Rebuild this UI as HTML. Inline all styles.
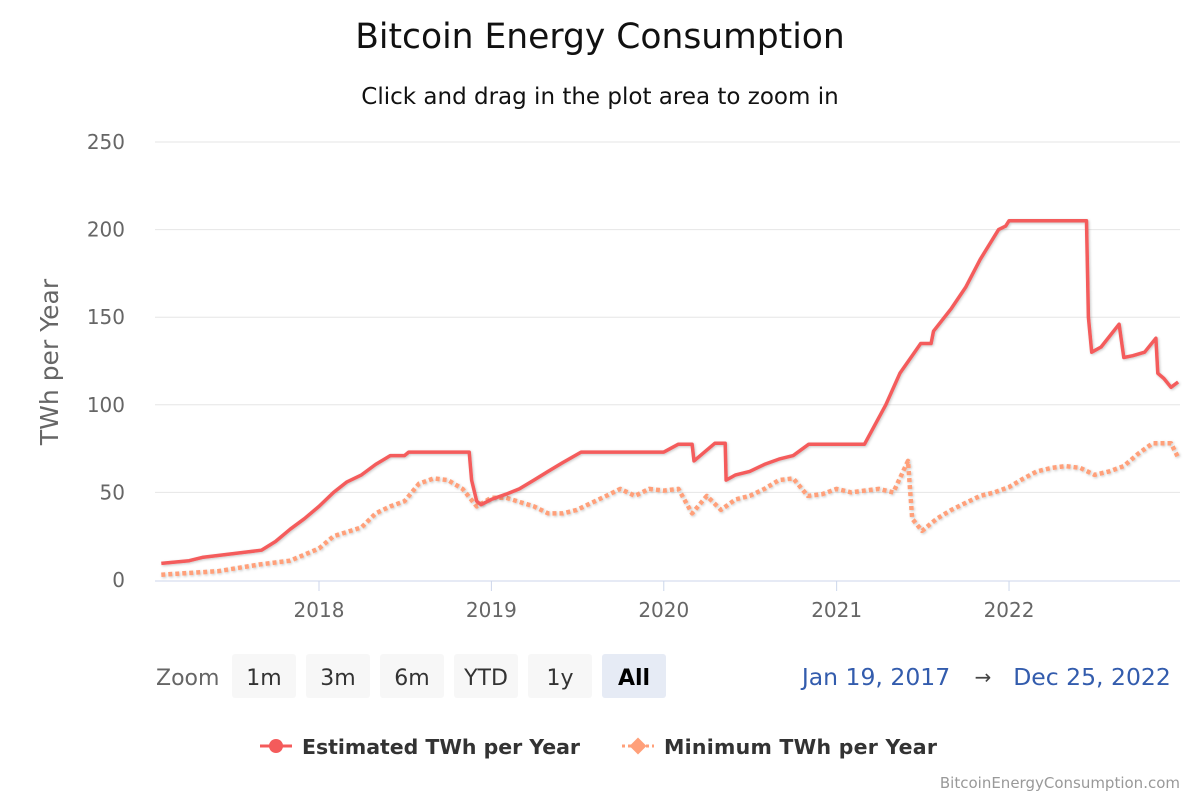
<!DOCTYPE html>
<html><head><meta charset="utf-8"><style>
body{margin:0;background:#fff;font-family:"Liberation Sans","DejaVu Sans",sans-serif}
svg text{font-family:"DejaVu Sans","Liberation Sans",sans-serif}
</style></head><body>
<svg id="c" width="1200" height="800" viewBox="0 0 1200 800" xmlns="http://www.w3.org/2000/svg">
<defs><filter id="sh" x="-5%" y="-5%" width="110%" height="120%"><feDropShadow dx="1" dy="1" stdDeviation="1.2" flood-color="#000" flood-opacity="0.22"/></filter></defs>
<text x="600" y="48" text-anchor="middle" font-size="34.5" fill="#111">Bitcoin Energy Consumption</text>
<text x="600" y="104" text-anchor="middle" font-size="23" fill="#111">Click and drag in the plot area to zoom in</text>
<g id="grid"></g>
<text transform="translate(58,362) rotate(-90)" text-anchor="middle" font-size="25" fill="#666">TWh per Year</text>
<g id="series"></g>
<g>
<text x="156" y="685" font-size="22" fill="#666">Zoom</text>
<g id="btns"></g>
<text x="876" y="685" text-anchor="middle" font-size="23.5" fill="#335cad">Jan 19, 2017</text>
<text x="983" y="684" text-anchor="middle" font-size="20" fill="#444">→</text>
<text x="1092" y="685" text-anchor="middle" font-size="23.5" fill="#335cad">Dec 25, 2022</text>
</g>
<g>
<line x1="260" y1="746" x2="292" y2="746" stroke="#f45b5b" stroke-width="3"/>
<circle cx="276" cy="746" r="7" fill="#f45b5b"/>
<text x="302" y="754" font-size="20.5" font-weight="bold" fill="#333" textLength="278">Estimated TWh per Year</text>
</g>
<g>
<line x1="622" y1="746" x2="654" y2="746" stroke="#ffa07a" stroke-width="3" stroke-dasharray="3,3"/>
<rect x="632" y="740" width="12" height="12" transform="rotate(45 638 746)" fill="#ffa07a"/>
<text x="664" y="754" font-size="20.5" font-weight="bold" fill="#333" textLength="273">Minimum TWh per Year</text>
</g>
<text x="1180" y="788" text-anchor="end" font-size="15" fill="#999">BitcoinEnergyConsumption.com</text>
</svg>
<script>
const yTicks=[0,50,100,150,200,250];
const xTickLabels=["2018","2019","2020","2021","2022"];
const estDates=["2017-02-01","2017-04-01","2017-05-01","2017-06-01","2017-08-01","2017-09-01","2017-10-01","2017-11-01","2017-12-01","2018-01-01","2018-02-01","2018-03-01","2018-04-01","2018-05-01","2018-06-01","2018-07-01","2018-07-10","2018-11-15","2018-11-20","2018-12-01","2018-12-10","2019-01-01","2019-02-01","2019-03-01","2019-04-01","2019-05-01","2019-06-01","2019-07-10","2020-01-01","2020-02-01","2020-03-01","2020-03-05","2020-04-18","2020-05-10","2020-05-12","2020-06-01","2020-07-01","2020-08-01","2020-09-01","2020-10-01","2020-11-03","2021-03-01","2021-04-15","2021-05-15","2021-06-15","2021-06-28","2021-07-20","2021-07-25","2021-09-01","2021-10-01","2021-11-01","2021-12-10","2021-12-25","2022-01-01","2022-06-14","2022-06-18","2022-06-25","2022-07-15","2022-08-22","2022-09-01","2022-09-20","2022-10-15","2022-11-08","2022-11-12","2022-11-25","2022-12-10","2022-12-25"];
const estValues=[9.5,11,13,14,16,17,22,29,35,42,50,56,60,66,71,71,73,73,57,45,43,46,49,52,57,62,67,73,73,77.5,77.5,68,78,78,57,60,62,66,69,71,77.5,77.5,100,118,130,135,135,142,155,167,183,200,202,205,205,150,130,133,146,127,128,130,138,118,115,110,113];
const minDates=["2017-02-01","2017-06-01","2017-09-01","2017-11-01","2018-01-01","2018-02-01","2018-04-01","2018-05-01","2018-06-01","2018-07-01","2018-08-01","2018-09-01","2018-10-01","2018-11-01","2018-12-01","2019-01-01","2019-02-01","2019-04-01","2019-05-01","2019-06-01","2019-07-01","2019-08-01","2019-09-01","2019-10-01","2019-11-01","2019-12-01","2020-01-01","2020-02-01","2020-03-01","2020-04-01","2020-05-01","2020-06-01","2020-07-01","2020-08-01","2020-09-01","2020-10-01","2020-11-01","2020-12-01","2021-01-01","2021-02-01","2021-03-01","2021-04-01","2021-05-01","2021-06-01","2021-06-10","2021-07-01","2021-08-01","2021-09-01","2021-10-01","2021-11-01","2021-12-01","2022-01-01","2022-02-01","2022-03-01","2022-04-01","2022-05-01","2022-06-01","2022-07-01","2022-08-01","2022-09-01","2022-10-01","2022-11-01","2022-12-10","2022-12-25"];
const minValues=[3,5,9,11,18,25,30,38,42,45,55,58,57,52,42,47,47,42,38,38,40,44,48,52,48,52,51,52,38,48,40,46,48,52,57,58,48,49,52,50,51,52,50,68,35,28,35,40,44,48,50,53,58,62,64,65,64,60,62,65,72,78,78,70];
const NS="http://www.w3.org/2000/svg";
const X0=319, T0=Date.UTC(2018,0,1), PXD=0.4723;
function xs(d){const t=Date.parse(d+"T00:00:00Z");return X0+(t-T0)/864e5*PXD;}
function ys(v){return 580-v*1.752;}
const grid=document.getElementById('grid');
yTicks.forEach(v=>{
 if(v>0){const l=document.createElementNS(NS,'line');
 l.setAttribute('x1',155);l.setAttribute('x2',1180);l.setAttribute('y1',ys(v));l.setAttribute('y2',ys(v));l.setAttribute('stroke','#e6e6e6');
 
 
 grid.appendChild(l);}
 const t=document.createElementNS(NS,'text');
 t.setAttribute('x',125);t.setAttribute('y',ys(v)+7);t.setAttribute('text-anchor','end');t.setAttribute('font-size','20');t.setAttribute('fill','#666');t.textContent=v;
 
 
 grid.appendChild(t);
});
const ax=document.createElementNS(NS,'line');
ax.setAttribute('x1',155);ax.setAttribute('x2',1180);ax.setAttribute('y1',581);ax.setAttribute('y2',581);ax.setAttribute('stroke','#ccd6eb');


grid.appendChild(ax);
xTickLabels.forEach(y=>{
 const x=xs(y+"-01-01");
 const tk=document.createElementNS(NS,'line');
 tk.setAttribute('x1',x);tk.setAttribute('x2',x);tk.setAttribute('y1',581);tk.setAttribute('y2',591);tk.setAttribute('stroke','#ccd6eb');
 
 
 grid.appendChild(tk);
 const t=document.createElementNS(NS,'text');
 t.setAttribute('x',x);t.setAttribute('y',617);t.setAttribute('text-anchor','middle');t.setAttribute('font-size','20');t.setAttribute('fill','#666');t.textContent=y;
 
 
 grid.appendChild(t);
});
const sg=document.getElementById('series');
function path(dates,vals,color,dash,w,name){
 const p=document.createElementNS(NS,'path');
 p.setAttribute('d',dates.map((d,i)=>(i?'L':'M')+xs(d).toFixed(1)+','+ys(vals[i]).toFixed(1)).join(''));
 p.setAttribute('fill','none');p.setAttribute('stroke',color);p.setAttribute('stroke-width',w);p.setAttribute('stroke-linejoin','round');
 if(dash)p.setAttribute('stroke-dasharray',dash);
 p.setAttribute('filter','url(#sh)');
 
 
 sg.appendChild(p);
}
path(minDates,minValues,'#ffa07a','4,3','4.5','minimum-series-line');
path(estDates,estValues,'#f45b5b',null,'3.5','estimated-series-line');
const btnLabels=["1m","3m","6m","YTD","1y","All"];
const bg=document.getElementById('btns');
btnLabels.forEach((b,i)=>{
 const x=232+i*74;
 const g=document.createElementNS(NS,'g');
 
 
 const r=document.createElementNS(NS,'rect');
 r.setAttribute('x',x);r.setAttribute('y',654);r.setAttribute('width',64);r.setAttribute('height',44);r.setAttribute('rx',3);
 r.setAttribute('fill',b==="All"?'#e6ebf5':'#f7f7f7');
 g.appendChild(r);
 const t=document.createElementNS(NS,'text');
 t.setAttribute('x',x+32);t.setAttribute('y',685);t.setAttribute('text-anchor','middle');t.setAttribute('font-size','22');
 t.setAttribute('fill',b==="All"?'#000':'#333');if(b==="All")t.setAttribute('font-weight','bold');
 t.textContent=b;g.appendChild(t);
 bg.appendChild(g);
});
</script>
</body></html>
